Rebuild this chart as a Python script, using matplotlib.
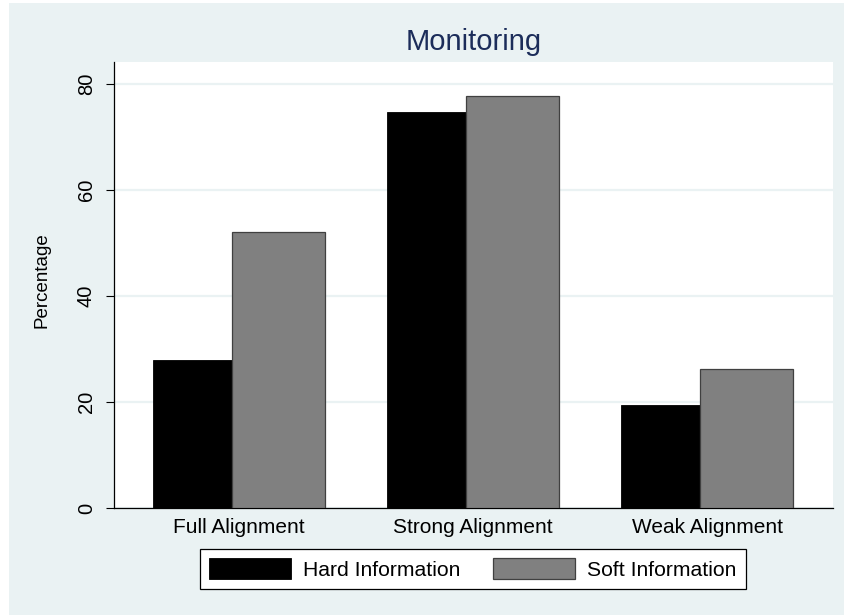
import matplotlib
matplotlib.use("Agg")
import matplotlib.pyplot as plt
from matplotlib.patches import Rectangle
import numpy as np

plt.rcParams["font.family"] = ["Liberation Sans", "DejaVu Sans"]

# data
categories = ["Full Alignment", "Strong Alignment", "Weak Alignment"]
hard_info = [27.9, 74.7, 19.5]
soft_info = [52.1, 77.7, 26.3]
series_names = ["Hard Information", "Soft Information"]

BG = "#EAF2F3"

fig = plt.figure(figsize=(8.45, 6.15), dpi=100, facecolor="white")
# light outer panel (Stata s2color look), thin white margin at left/top
fig.patches.append(Rectangle((9 / 845, 0), 1 - 9 / 845, 612 / 615,
                             transform=fig.transFigure, facecolor=BG,
                             edgecolor="none", zorder=-10))

ax = fig.add_axes([114 / 845, 1 - 508 / 615, (832.7 - 114) / 845, 446 / 615])
ax.set_facecolor("white")

x = np.arange(len(categories))
w_hard = 0.338
w_soft = 0.397
ax.bar(x - w_hard, hard_info, width=w_hard, align="edge", color="black",
       edgecolor="black", linewidth=0.6, label=series_names[0], zorder=3)
ax.bar(x, soft_info, width=w_soft, align="edge", color="#808080",
       edgecolor="#404040", linewidth=0.9, label=series_names[1], zorder=3)

ax.set_xlim(-0.506, 2.566)
ax.set_ylim(0, 84.2)
ax.set_xticks(x + (w_soft - w_hard) / 2)
ax.set_xticklabels(categories, fontsize=15)
ax.tick_params(axis="x", length=0, pad=7)

ax.set_yticks([0, 20, 40, 60, 80])
ax.tick_params(axis="y", length=6, width=0.8, pad=7, labelsize=14.5)
for lab in ax.get_yticklabels():
    lab.set_rotation(90)
    lab.set_va("center")

ax.yaxis.grid(True, color=BG, linewidth=1.6, zorder=0)
ax.set_axisbelow(True)
for side in ["top", "right"]:
    ax.spines[side].set_visible(False)
ax.spines["left"].set_linewidth(0.9)
ax.spines["bottom"].set_linewidth(0.9)

ax.set_ylabel("Percentage", fontsize=13.5)
ax.yaxis.set_label_coords(-0.088, 0.512)

ax.set_title("Monitoring", fontsize=21, color="#1c2d5a", pad=9)

leg = fig.legend(loc="center", bbox_to_anchor=(473 / 845, 1 - 569 / 615),
                 ncol=2, fontsize=15.2, frameon=True, fancybox=False,
                 edgecolor="black", facecolor="white", framealpha=1,
                 handlelength=3.88, handleheight=1.1, handletextpad=0.57,
                 columnspacing=1.55, borderpad=0.42)
leg.get_frame().set_linewidth(0.9)

plt.savefig("out.png", dpi=100)
plt.close()
